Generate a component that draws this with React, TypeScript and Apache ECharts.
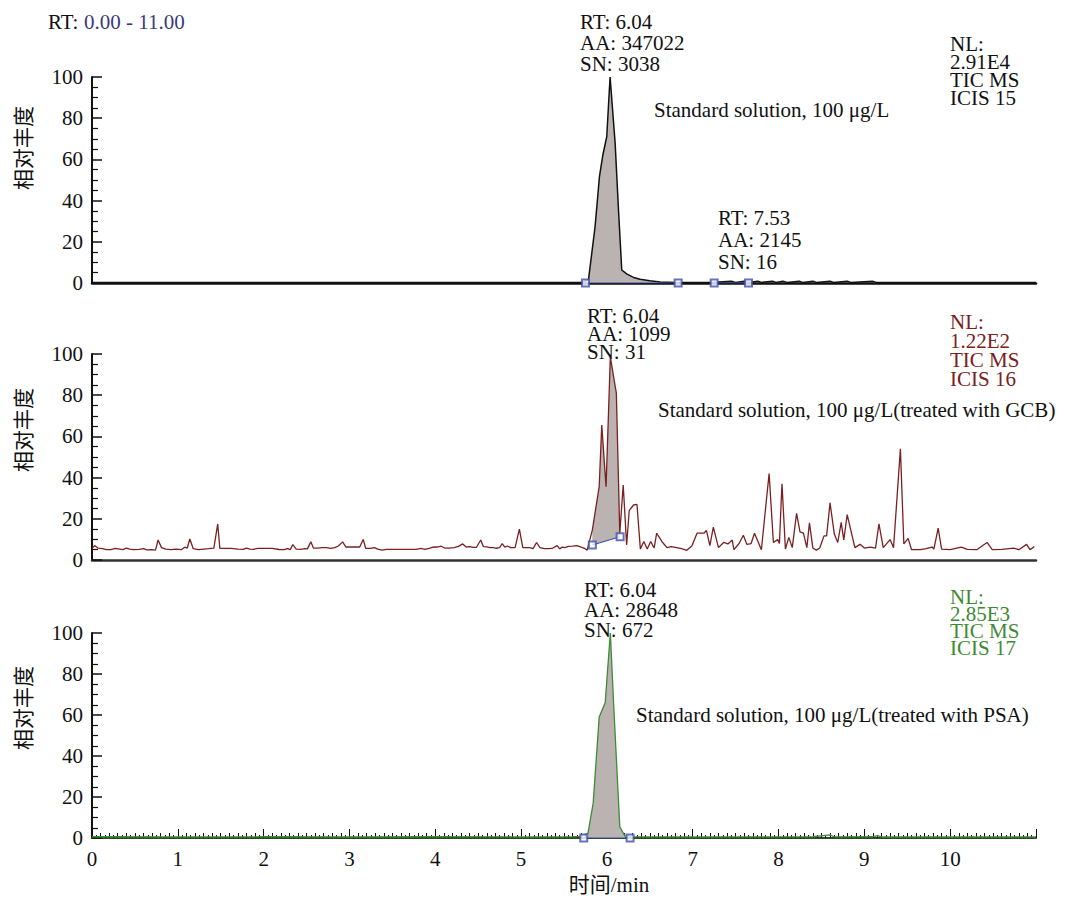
import React, { useEffect, useRef } from "react";
import * as echarts from "echarts";

// ---------- data ----------
const X_MIN = 0;
const X_MAX = 11;
const xTickLabels = ["0", "1", "2", "3", "4", "5", "6", "7", "8", "9", "10"];
const yTickLabels = ["0", "20", "40", "60", "80", "100"];

// Panel 1: standard solution (black)
const traceStd: [number, number][] = [
  [0, 0.2], [1, 0.2], [2, 0.2], [3, 0.2], [4, 0.2], [5, 0.2], [5.7, 0.2],
  [5.785, 1.5], [5.862, 27.3], [5.913, 51.6], [5.952, 62], [5.998, 71],
  [6.037, 100], [6.096, 67.8], [6.135, 35.4], [6.173, 6.3], [6.23, 4.4],
  [6.31, 2.7], [6.386, 1.8], [6.5, 1.1], [6.62, 0.5], [6.8, 0.3], [7.2, 0.3],
  [7.45, 0.9], [7.5, 0.3], [7.6, 0.9], [7.65, 0.3], [7.76, 0.9], [7.8, 0.3],
  [7.93, 0.9], [7.97, 0.3], [8.05, 0.9], [8.1, 0.3], [8.24, 0.9], [8.28, 0.3],
  [8.4, 0.9], [8.44, 0.3], [8.6, 0.9], [8.64, 0.3], [8.8, 0.9], [8.84, 0.3],
  [9.1, 0.8], [9.14, 0.3], [10, 0.2], [11, 0.2],
];
const markersStd: [number, number][] = [[5.75, 0], [6.83, 0], [7.25, 0], [7.65, 0]];
const baselineStdA: [number, number][] = [[5.75, 0], [6.83, 0]];
const baselineStdB: [number, number][] = [[7.25, 0], [7.65, 0]];

// Panel 2: treated with GCB (dark red)
const traceGCB: [number, number][] = [
  [0, 5.5], [0.03, 7], [0.07, 5.8], [0.12, 5.5], [0.17, 5.0], [0.22, 5.0], [0.27, 5.6],
  [0.32, 5.3], [0.36, 5.0], [0.4, 5.8], [0.44, 5.3], [0.48, 5.0], [0.55, 5.2], [0.6, 5.5],
  [0.64, 4.9], [0.7, 5.0], [0.74, 4.8], [0.77, 9.7], [0.81, 6.0], [0.86, 5.3], [0.92, 5.0],
  [0.98, 5.3], [1.04, 5.0], [1.08, 6.2], [1.11, 5.8], [1.14, 10.2], [1.18, 5.5], [1.24, 5.0],
  [1.3, 5.3], [1.36, 5.5], [1.42, 5.8], [1.465, 17.5], [1.49, 5.6], [1.55, 5.6], [1.62, 5.6],
  [1.7, 5.3], [1.76, 5.2], [1.8, 5.8], [1.84, 5.3], [1.88, 5.2], [1.93, 5.6], [2.0, 5.6],
  [2.1, 5.6], [2.18, 5.1], [2.24, 5.0], [2.28, 5.5], [2.31, 5.0], [2.34, 7.5], [2.38, 5.3],
  [2.43, 5.2], [2.48, 5.5], [2.51, 5.4], [2.55, 8.8], [2.58, 5.8], [2.63, 5.8], [2.68, 6.0],
  [2.73, 6.0], [2.78, 5.6], [2.83, 6.0], [2.87, 6.8], [2.92, 8.8], [2.96, 6.3], [3.02, 6.3],
  [3.08, 6.3], [3.12, 6.3], [3.16, 10.0], [3.19, 5.6], [3.24, 5.6], [3.29, 6.0], [3.33, 5.3],
  [3.38, 4.8], [3.43, 5.2], [3.5, 5.2], [3.6, 5.2], [3.7, 5.2], [3.78, 5.2], [3.83, 5.6],
  [3.88, 5.2], [3.93, 5.6], [3.97, 6.2], [4.02, 6.3], [4.07, 6.7], [4.11, 5.8], [4.16, 5.8],
  [4.22, 6.0], [4.27, 6.6], [4.32, 7.8], [4.36, 6.3], [4.4, 6.5], [4.44, 6.1], [4.48, 6.2],
  [4.53, 9.7], [4.56, 6.5], [4.6, 6.4], [4.64, 6.0], [4.68, 6.0], [4.71, 5.7], [4.75, 6.0],
  [4.78, 8.0], [4.81, 6.3], [4.84, 6.8], [4.88, 6.0], [4.93, 6.0], [4.98, 15.0], [5.02, 6.0],
  [5.06, 6.0], [5.1, 6.0], [5.14, 5.5], [5.18, 8.5], [5.22, 6.0], [5.27, 5.5], [5.32, 5.5],
  [5.36, 5.6], [5.42, 7.0], [5.45, 5.4], [5.48, 6.3], [5.51, 6.0], [5.55, 6.6], [5.6, 6.7],
  [5.65, 7.0], [5.7, 6.2], [5.74, 5.6], [5.77, 4.8], [5.83, 14.5], [5.91, 35.6], [5.94, 65.5],
  [5.99, 35.6], [6.04, 98.5], [6.11, 81], [6.15, 13], [6.19, 36.4], [6.23, 7.3], [6.26, 24],
  [6.31, 26.7], [6.35, 27], [6.39, 5.3], [6.43, 9], [6.47, 5.3], [6.51, 9], [6.55, 5.8],
  [6.58, 13], [6.64, 9], [6.7, 6], [6.75, 6.5], [6.81, 6], [6.87, 5.5], [6.93, 4.7],
  [6.99, 6.8], [7.05, 13], [7.13, 13], [7.16, 14.4], [7.2, 7], [7.24, 16], [7.3, 6],
  [7.36, 8.5], [7.41, 7.8], [7.46, 9.7], [7.48, 5], [7.54, 8], [7.59, 12], [7.63, 7.6],
  [7.68, 8], [7.72, 13], [7.8, 5], [7.89, 42], [7.94, 8.5], [7.99, 9.9], [8.01, 8],
  [8.04, 37], [8.08, 5.3], [8.12, 11], [8.16, 6], [8.21, 22.6], [8.25, 13.6], [8.29, 13],
  [8.33, 6], [8.36, 18], [8.4, 5.8], [8.44, 4.8], [8.48, 5.8], [8.53, 11.7], [8.56, 11.7],
  [8.6, 27.7], [8.65, 12.6], [8.69, 8.5], [8.73, 18.3], [8.76, 9.7], [8.8, 22], [8.85, 13],
  [8.89, 6], [8.95, 7.6], [9.0, 5.8], [9.07, 6.3], [9.13, 5.8], [9.17, 17.5], [9.22, 6],
  [9.3, 9.9], [9.34, 6], [9.42, 54], [9.46, 7.8], [9.51, 10.5], [9.55, 5], [9.65, 5],
  [9.72, 5.5], [9.79, 6.3], [9.81, 5.3], [9.86, 15.5], [9.9, 5.3], [10.0, 5], [10.13, 6.3],
  [10.2, 5.2], [10.31, 5], [10.43, 8.5], [10.49, 5], [10.6, 5.2], [10.74, 5.8], [10.8, 5.0],
  [10.89, 7.6], [10.93, 5], [10.98, 6.5],
];
const markersGCB: [number, number][] = [[5.83, 7.3], [6.154, 11.3]];

// Panel 3: treated with PSA (green)
const tracePSA: [number, number][] = [
  [0, 0.6], [1, 0.5], [2, 0.6], [3, 0.5], [4, 0.6], [5, 0.5], [5.6, 0.6], [5.7, 0.8],
  [5.78, 2.4], [5.84, 17], [5.91, 59], [5.98, 66], [6.04, 100], [6.08, 64], [6.15, 5.5],
  [6.21, 1], [6.3, 0.6], [7, 0.5], [8.4, 0.6], [8.6, 1.5], [8.65, 0.5], [9.1, 0.6],
  [9.15, 1.2], [9.2, 0.5], [10, 0.5], [11, 0.5],
];
const markersPSA: [number, number][] = [[5.73, 0], [6.27, 0]];

// annotation texts
const titleRT = "RT:";
const titleRange = "0.00 - 11.00";
const annStd = ["RT: 6.04", "AA: 347022", "SN: 3038"];
const annStd2 = ["RT: 7.53", "AA: 2145", "SN: 16"];
const annGCB = ["RT: 6.04", "AA: 1099", "SN: 31"];
const annPSA = ["RT: 6.04", "AA: 28648", "SN: 672"];
const nlStd = ["NL:", "2.91E4", "TIC MS", "ICIS 15"];
const nlGCB = ["NL:", "1.22E2", "TIC MS", "ICIS 16"];
const nlPSA = ["NL:", "2.85E3", "TIC MS", "ICIS 17"];
const labelStd = "Standard solution, 100 μg/L";
const labelGCB = "Standard solution, 100 μg/L(treated with GCB)";
const labelPSA = "Standard solution, 100 μg/L(treated with PSA)";
const yName = "相对丰度";
const xName = "时间/min";

// ---------- styles ----------
const SERIF = '"Liberation Serif", "Times New Roman", serif';
const CJK = '"Noto Sans CJK SC", sans-serif';
const FS = 21;
const FILL = "#bab3b1";
const BLUE = "#3f4fae";
const C_BLACK = "#111111";
const C_RED = "#7a2020";
const C_GREEN = "#3f8a35";
const C_NAVY = "#3b3a7e";

const GRID_LEFT = 92;
const GRID_RIGHT = 31;
const GRIDS = [
  { top: 77, height: 206 },
  { top: 354, height: 206 },
  { top: 633, height: 205 },
];

function peakPolygon(trace: [number, number][], from: number, to: number,
  startBase: [number, number], endBase: [number, number]): [number, number][] {
  const pts = trace.filter((p) => p[0] >= from && p[0] <= to);
  return [startBase, ...pts, endBase];
}

function fillSeries(poly: [number, number][], idx: number) {
  return {
    type: "custom",
    xAxisIndex: idx,
    yAxisIndex: idx,
    z: 1,
    silent: true,
    data: [poly[0]],
    renderItem: (_params: any, api: any) => {
      const pts = poly.map((p) => api.coord(p));
      return { type: "polygon", shape: { points: pts }, style: { fill: FILL, stroke: "none" } };
    },
  };
}

function textBlock(lines: string[], x: number, yFirstCenter: number, lh: number, color: string, size = FS) {
  return {
    type: "text",
    x,
    y: yFirstCenter - lh / 2,
    z: 10,
    style: {
      text: lines.join("\n"),
      font: `${size}px ${SERIF}`,
      fill: color,
      lineHeight: lh,
      textAlign: "left",
      textVerticalAlign: "top",
      align: "left",
      verticalAlign: "top",
    },
  };
}

export default function App() {
  const ref = useRef<HTMLDivElement>(null);
  useEffect(() => {
    document.body.style.margin = "0";
    if (!ref.current) return;
    const chart = echarts.init(ref.current, null, { renderer: "svg" });

    const yAxes = GRIDS.map((_, i) => ({
      type: "value",
      gridIndex: i,
      min: 0,
      max: 100,
      interval: 20,
      axisLine: { show: true, lineStyle: { color: C_BLACK, width: 2 } },
      axisTick: { show: true, inside: true, length: 10, lineStyle: { color: C_BLACK, width: 1.5 } },
      minorTick: { show: true, splitNumber: 4, length: 6, lineStyle: { color: C_BLACK, width: 1.2 } },
      splitLine: { show: false },
      axisLabel: {
        margin: 9,
        fontSize: FS,
        fontFamily: SERIF,
        color: C_BLACK,
        formatter: (v: number) => (yTickLabels.includes(String(v)) ? String(v) : ""),
      },
    }));

    const xBase = (i: number) => ({
      type: "value",
      gridIndex: i,
      min: X_MIN,
      max: X_MAX,
      interval: 1,
      position: "bottom",
      splitLine: { show: false },
    });

    const xAxes: any[] = [
      { ...xBase(0), axisLine: { show: true, lineStyle: { color: C_BLACK, width: 2.5 } }, axisTick: { show: false }, axisLabel: { show: false } },
      { ...xBase(1), axisLine: { show: true, lineStyle: { color: "#333333", width: 2.5 } }, axisTick: { show: false }, axisLabel: { show: false } },
      {
        ...xBase(2),
        axisLine: { show: true, lineStyle: { color: "#2d4a26", width: 2 } },
        axisTick: { show: true, inside: true, length: 9, lineStyle: { color: C_BLACK, width: 1 } },
        minorTick: { show: true, splitNumber: 10, length: 5, lineStyle: { color: C_BLACK, width: 1 } },
        axisLabel: {
          margin: 10,
          fontSize: FS,
          fontFamily: SERIF,
          color: C_BLACK,
          formatter: (v: number) => (xTickLabels.includes(String(v)) ? String(v) : ""),
        },
      },
      {
        ...xBase(2),
        axisLine: { show: false },
        axisTick: { show: true, inside: true, length: 9, lineStyle: { color: C_BLACK, width: 1 } },
        minorTick: { show: true, splitNumber: 20, length: 3, lineStyle: { color: C_BLACK, width: 1 } },
        axisLabel: { show: false },
      },
    ];

    const line = (data: [number, number][], xi: number, yi: number, color: string, width: number, z = 3) => ({
      type: "line",
      xAxisIndex: xi,
      yAxisIndex: yi,
      data,
      symbol: "none",
      showSymbol: false,
      z,
      lineStyle: { color, width },
      itemStyle: { color },
    });

    const markers = (data: [number, number][], xi: number, yi: number) => ({
      type: "scatter",
      xAxisIndex: xi,
      yAxisIndex: yi,
      data,
      symbol: "emptyRect",
      symbolSize: 7,
      z: 5,
      itemStyle: { color: BLUE, borderColor: BLUE, borderWidth: 1.2 },
    });

    const polyStd = peakPolygon(traceStd, 5.78, 6.62, [5.785, 0], [6.62, 0]);
    const polyGCB = peakPolygon(traceGCB, 5.83, 6.15, markersGCB[0], markersGCB[1]);
    const polyPSA = peakPolygon(tracePSA, 5.78, 6.21, [5.78, 0], [6.21, 0]);

    const yNameText = (cy: number) => ({
      type: "text",
      x: 22,
      y: cy,
      rotation: Math.PI / 2,
      z: 10,
      style: {
        text: yName,
        font: `21px ${CJK}`,
        fill: C_BLACK,
        textAlign: "center",
        textVerticalAlign: "middle",
        align: "center",
        verticalAlign: "middle",
      },
    });

    chart.setOption({
      animation: false,
      backgroundColor: "#ffffff",
      grid: GRIDS.map((g) => ({ left: GRID_LEFT, right: GRID_RIGHT, top: g.top, height: g.height })),
      xAxis: xAxes,
      yAxis: yAxes,
      series: [
        fillSeries(polyStd, 0),
        line(traceStd, 0, 0, C_BLACK, 1.5),
        line(baselineStdA, 0, 0, BLUE, 1.2, 4),
        line(baselineStdB, 0, 0, BLUE, 1.2, 4),
        markers(markersStd, 0, 0),

        fillSeries(polyGCB, 1),
        line(traceGCB, 1, 1, C_RED, 1.3),
        line(markersGCB, 1, 1, BLUE, 1.2, 4),
        markers(markersGCB, 1, 1),

        fillSeries(polyPSA, 2),
        line(tracePSA, 2, 2, C_GREEN, 1.3),
        line(markersPSA, 2, 2, BLUE, 1.2, 4),
        markers(markersPSA, 2, 2),
      ],
      graphic: [
        { type: "text", x: 48, y: 11, style: { text: titleRT, font: `${FS}px ${SERIF}`, fill: C_BLACK, textVerticalAlign: "top", verticalAlign: "top" } },
        { type: "text", x: 84, y: 11, style: { text: titleRange, font: `${FS}px ${SERIF}`, fill: C_NAVY, textVerticalAlign: "top", verticalAlign: "top" } },
        textBlock(annStd, 580, 22, 21, C_BLACK),
        textBlock(annStd2, 718, 218, 22, C_BLACK),
        textBlock(nlStd, 950, 44, 18, C_BLACK),
        textBlock([labelStd], 654, 110, 22, C_BLACK),
        textBlock(annGCB, 587, 316, 18, C_BLACK),
        textBlock(nlGCB, 950, 322, 19, C_RED),
        textBlock([labelGCB], 658, 410, 22, C_BLACK),
        textBlock(annPSA, 584, 590, 20, C_BLACK),
        textBlock(nlPSA, 950, 597, 17, C_GREEN),
        textBlock([labelPSA], 636, 715, 22, C_BLACK),
        yNameText(148),
        yNameText(430),
        yNameText(708),
        {
          type: "text",
          x: 609,
          y: 885,
          style: { text: xName, font: `${FS}px ${SERIF}, ${CJK}`, fill: C_BLACK, textAlign: "center", textVerticalAlign: "middle", align: "center", verticalAlign: "middle" },
        },
      ],
    });
    return () => chart.dispose();
  }, []);
  return <div ref={ref} style={{ width: 1067, height: 902 }} />;
}
